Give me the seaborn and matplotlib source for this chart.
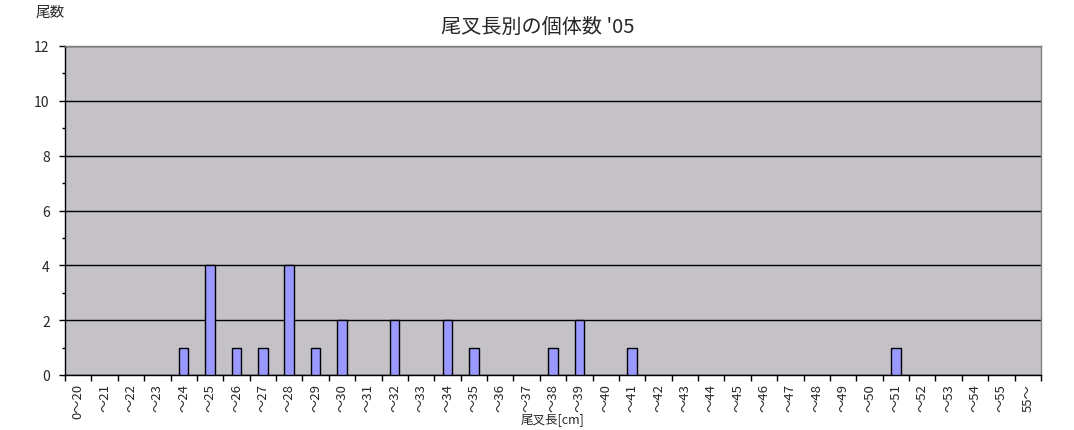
import matplotlib
matplotlib.use("Agg")
import matplotlib.pyplot as plt
import seaborn as sns
import pandas as pd
from matplotlib.ticker import MultipleLocator, FixedLocator

categories = ["0～20"] + [f"～{i}" for i in range(21, 56)] + ["55～"]
counts_map = {"～24": 1, "～25": 4, "～26": 1, "～27": 1, "～28": 4, "～29": 1,
              "～30": 2, "～32": 2, "～34": 2, "～35": 1, "～38": 1, "～39": 2,
              "～41": 1, "～51": 1}
counts = [counts_map.get(c, 0) for c in categories]

df = pd.DataFrame({"cat": categories, "n": counts})

sns.set_style("white")
plt.rcParams['font.family'] = ['Noto Sans CJK JP', 'DejaVu Sans']

fig = plt.figure(figsize=(10.74, 4.31), dpi=100)
ax = fig.add_axes([65/1074, 1 - 376/431, (1041-65)/1074, (376-47)/431])
ax.set_facecolor("#C4C2C6")
sns.barplot(data=df, x="cat", y="n", order=categories, color="#9999FF",
            saturation=1, width=0.36, edgecolor="black", linewidth=1, ax=ax, zorder=3)
for p in ax.patches:
    if p.get_height() == 0:
        p.set_linewidth(0)
ax.set_xlim(-0.5, len(categories) - 0.5)
ax.set_ylim(0, 12)
ax.yaxis.set_major_locator(MultipleLocator(2))
ax.yaxis.set_minor_locator(MultipleLocator(1))
ax.grid(axis="y", which="major", color="black", linewidth=1, zorder=1)
ax.set_axisbelow(True)
ax.tick_params(axis="y", which="major", direction="out", length=4, width=1, color="black",
               labelsize=10, pad=7, left=True)
ax.tick_params(axis="y", which="minor", direction="out", length=2, width=1, color="black", left=True)
ax.xaxis.set_minor_locator(FixedLocator([i - 0.5 for i in range(len(categories) + 1)]))
ax.tick_params(axis="x", which="major", length=0, labelsize=9.5, labelrotation=90, pad=6)
ax.tick_params(axis="x", which="minor", direction="out", length=4, width=1, color="black", bottom=True)
for s in ["left", "bottom"]:
    ax.spines[s].set_color("black")
    ax.spines[s].set_linewidth(1)
for s in ["top", "right"]:
    ax.spines[s].set_visible(True)
    ax.spines[s].set_color("#808080")
    ax.spines[s].set_linewidth(1)
ax.set_xlabel("")
ax.set_ylabel("")
fig.text(553/1074, 1 - 420/431, "尾叉長[cm]", ha="center", va="center", fontsize=9)
fig.text(50/1074, 1 - 13/431, "尾数", ha="center", va="center", fontsize=10.5)
fig.text(538/1074, 1 - 27/431, "尾叉長別の個体数 '05", ha="center", va="center", fontsize=14.5)
fig.savefig("out.png", dpi=100, facecolor="white")
